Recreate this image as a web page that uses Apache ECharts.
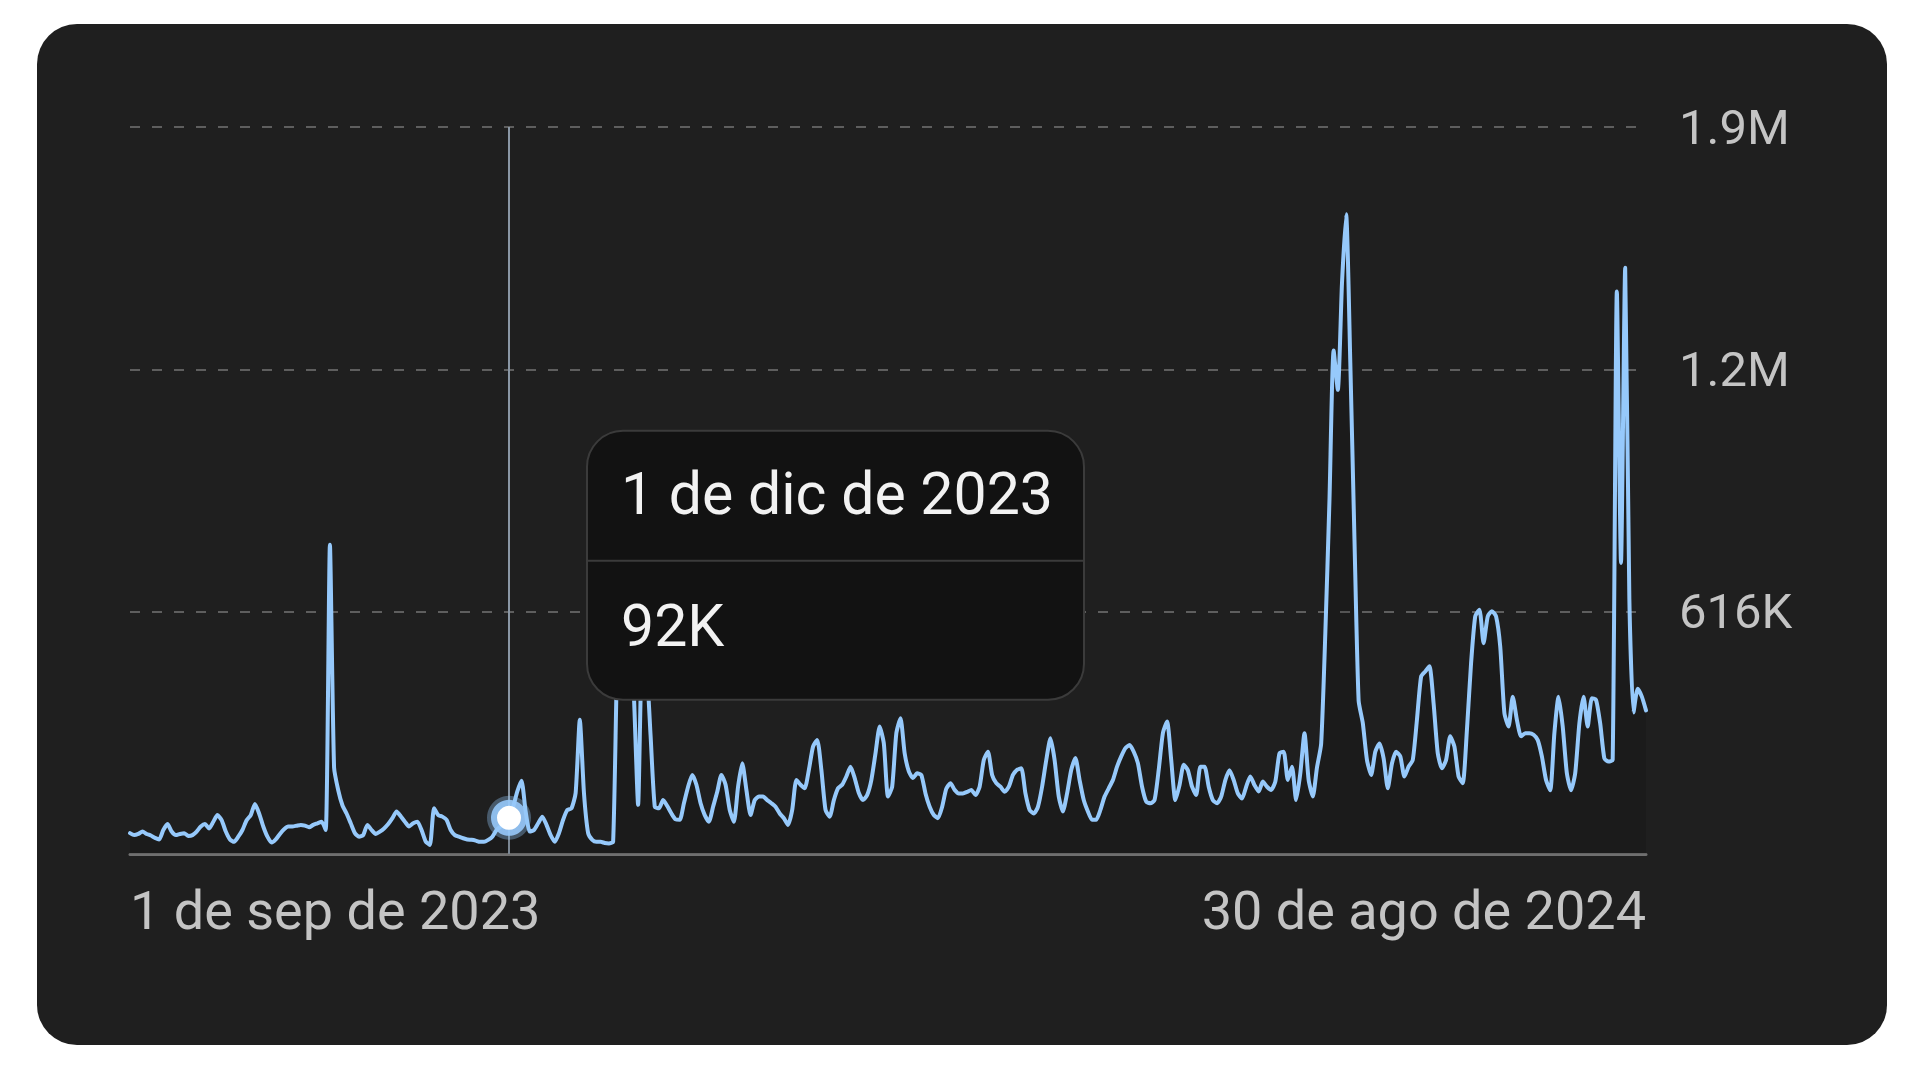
<!DOCTYPE html>
<html>
<head>
<meta charset="utf-8">
<script src="https://cdn.jsdelivr.net/npm/echarts@6/dist/echarts.min.js"></script>
<style>
  html, body { margin: 0; padding: 0; background: #ffffff; width: 1920px; height: 1080px; overflow: hidden; }
  #panel { position: absolute; left: 37px; top: 24px; width: 1850px; height: 1021px; border-radius: 40px; background: #1f1f1f; overflow: hidden; }
  #chart { position: absolute; left: 0; top: 0; width: 1850px; height: 1021px; }
</style>
</head>
<body>
<div id="panel"><div id="chart"></div></div>
<script>
// ---- data (daily views, thousands) 1 sep 2023 .. 30 ago 2024 ----
const startDate = [2023, 8, 1]; // year, month index, day
const monthNames = ['ene','feb','mar','abr','may','jun','jul','ago','sep','oct','nov','dic'];
const viewsK = [
  53, 48, 51, 57, 51, 47, 41, 37, 61, 76,
  57, 48, 51, 53, 46, 48, 57, 70, 76, 65,
  82, 99, 86, 57, 37, 31, 44, 61, 86, 99,
  127, 103, 70, 44, 29, 37, 51, 63, 70, 70,
  72, 74, 72, 68, 74, 78, 82, 61, 786, 220,
  162, 124, 103, 78, 53, 44, 48, 74, 61, 51,
  57, 65, 76, 91, 108, 96, 82, 70, 78, 82,
  61, 32, 23, 116, 99, 95, 87, 61, 48, 44,
  40, 37, 36, 34, 31, 31, 36, 44, 61, 70,
  82, 92, 120, 159, 186, 108, 57, 61, 78, 95,
  74, 48, 31, 53, 87, 112, 116, 155, 341, 155,
  53, 36, 31, 31, 28, 27, 31, 500, 650, 560,
  600, 400, 125, 520, 480, 300, 120, 116, 137, 122,
  103, 88, 87, 129, 171, 201, 176, 129, 99, 82,
  120, 158, 201, 176, 112, 82, 171, 231, 163, 99,
  137, 146, 146, 137, 129, 120, 103, 91, 74, 112,
  188, 176, 167, 214, 273, 290, 214, 112, 95, 137,
  167, 176, 197, 222, 193, 155, 137, 150, 188, 256,
  324, 281, 146, 171, 307, 345, 256, 210, 193, 205,
  201, 154, 120, 99, 91, 120, 166, 180, 163, 154,
  154, 158, 163, 150, 171, 239, 260, 201, 180, 171,
  158, 171, 201, 214, 218, 154, 112, 103, 120, 171,
  239, 294, 239, 146, 108, 154, 214, 244, 188, 137,
  108, 87, 87, 112, 146, 167, 188, 222, 248, 269,
  277, 260, 231, 171, 133, 129, 137, 214, 307, 337,
  239, 137, 175, 227, 213, 171, 150, 222, 222, 171,
  137, 129, 146, 188, 213, 188, 154, 141, 171, 197,
  175, 159, 184, 171, 163, 184, 256, 260, 188, 222,
  137, 205, 307, 188, 146, 220, 280, 560, 900, 1280,
  1180, 1450, 1626, 1250, 800, 390, 333, 239, 201, 260,
  281, 243, 167, 230, 260, 248, 197, 222, 239, 341,
  451, 464, 477, 383, 256, 218, 239, 299, 273, 197,
  180, 315, 485, 604, 621, 536, 604, 617, 604, 527,
  358, 324, 400, 341, 299, 307, 307, 303, 290, 248,
  188, 162, 307, 400, 324, 205, 162, 205, 332, 400,
  324, 396, 392, 332, 243, 235, 239, 1430, 740, 1490,
  650, 360, 420, 400, 365
];
const yTickValues = [0, 616, 1232, 1848];
const yTickLabels = ['', '616K', '1.2M', '1.9M'];
const highlightIndex = 91;

// categories: one Spanish date label per day
const categories = viewsK.map((_, i) => {
  const d = new Date(Date.UTC(startDate[0], startDate[1], startDate[2] + i));
  return d.getUTCDate() + ' de ' + monthNames[d.getUTCMonth()] + ' de ' + d.getUTCFullYear();
});
const lastIndex = categories.length - 1;

const FONT = 'Roboto, "Noto Sans", sans-serif';
const chart = echarts.init(document.getElementById('chart'), null, { renderer: 'svg' });

chart.setOption({
  animation: false,
  backgroundColor: 'transparent',
  grid: { left: 93, right: 241, top: 103, bottom: 191, containLabel: false },
  xAxis: {
    type: 'category',
    data: categories,
    boundaryGap: false,
    axisLine: { show: true, lineStyle: { color: '#6f6f6f', width: 3 } },
    axisTick: { show: false },
    splitLine: { show: false },
    axisLabel: {
      interval: (idx) => idx === 0 || idx === lastIndex,
      alignMinLabel: 'left',
      alignMaxLabel: 'right',
      color: '#c4c4c4',
      fontSize: 54,
      fontFamily: FONT,
      margin: 29
    }
  },
  yAxis: {
    type: 'value',
    position: 'right',
    min: yTickValues[0],
    max: yTickValues[yTickValues.length - 1],
    interval: yTickValues[1] - yTickValues[0],
    axisLine: { show: false },
    axisTick: { show: false },
    axisLabel: {
      color: '#c4c4c4',
      fontSize: 49,
      fontFamily: FONT,
      margin: 33,
      formatter: (v) => yTickLabels[yTickValues.indexOf(v)] || ''
    },
    splitLine: { show: true, lineStyle: { color: '#5e5e5e', width: 2, type: [10, 12] } }
  },
  series: [
    {
      type: 'line',
      data: viewsK,
      showSymbol: false,
      symbol: 'none',
      smooth: 0.2,
      lineStyle: { color: '#96c9fb', width: 4, join: 'round', cap: 'round' },
      areaStyle: { color: 'rgba(0,0,0,0.15)', origin: 'start' },
      z: 3,
      markLine: {
        silent: true,
        symbol: 'none',
        label: { show: false },
        lineStyle: { color: '#8a97a5', width: 2, type: 'solid' },
        data: [{ xAxis: categories[highlightIndex] }],
        z: 1
      }
    }
  ]
});

// highlighted point marker + tooltip-like card, placed from the data through the axes
const pt = chart.convertToPixel({ gridIndex: 0 }, [highlightIndex, viewsK[highlightIndex]]);
const boxW = 497, boxH = 269;
chart.setOption({
  graphic: [
    { type: 'circle', z: 50, x: pt[0], y: pt[1], shape: { cx: 0, cy: 0, r: 22 },
      style: { fill: 'rgba(150,200,250,0.35)' } },
    { type: 'circle', z: 51, x: pt[0], y: pt[1], shape: { cx: 0, cy: 0, r: 18 },
      style: { fill: 'rgba(150,200,250,0.9)' } },
    { type: 'circle', z: 52, x: pt[0], y: pt[1], shape: { cx: 0, cy: 0, r: 12 },
      style: { fill: '#ffffff' } },
    {
      type: 'group',
      x: pt[0] + 78,
      y: pt[1] - 387,
      children: [
        { type: 'rect', z: 100, shape: { x: 0, y: 0, width: boxW, height: boxH, r: 36 },
          style: { fill: '#121212', stroke: '#3b3b3b', lineWidth: 2 } },
        { type: 'line', z: 101, shape: { x1: 1, y1: 130, x2: boxW - 1, y2: 130 },
          style: { stroke: '#3b3b3b', lineWidth: 2 } },
        { type: 'text', z: 102, x: 34, y: 63,
          style: { text: categories[highlightIndex], fill: '#f2f2f2', font: '59px ' + FONT, verticalAlign: 'middle', align: 'left' } },
        { type: 'text', z: 102, x: 34, y: 195,
          style: { text: viewsK[highlightIndex] + 'K', fill: '#f2f2f2', font: '59px ' + FONT, verticalAlign: 'middle', align: 'left' } }
      ]
    }
  ]
});
</script>
</body>
</html>
